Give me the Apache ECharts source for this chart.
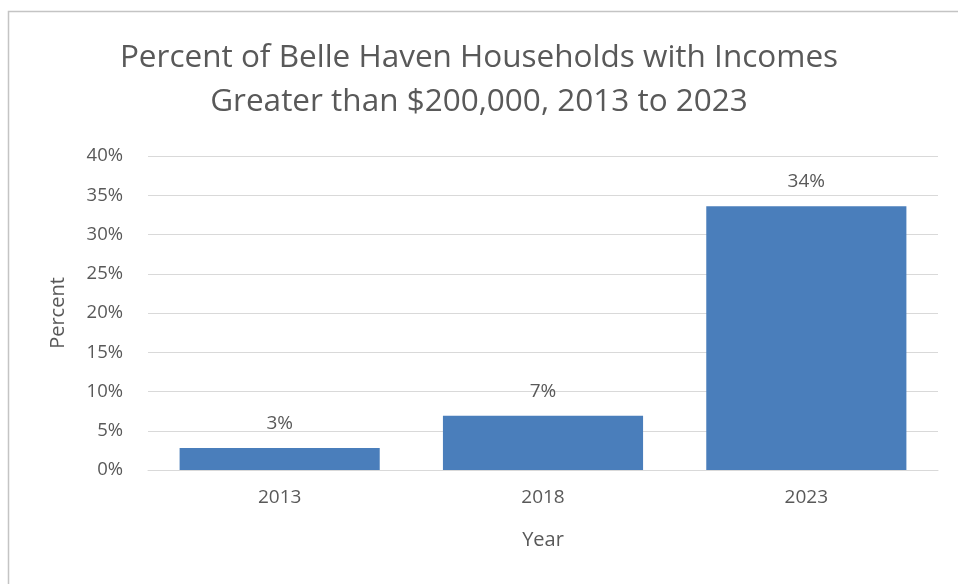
<!DOCTYPE html>
<html>
<head>
<meta charset="utf-8">
<script src="https://cdn.jsdelivr.net/npm/echarts@6/dist/echarts.min.js"></script>
<style>
  html, body { margin: 0; padding: 0; background: #ffffff; }
  #chart { width: 958px; height: 584px; }
</style>
</head>
<body>
<div id="chart"></div>
<script>
// Share of Belle Haven households earning over $200,000
const years = ['2013', '2018', '2023'];
const sharePct = [2.8, 6.9, 33.6];
const yTicks = [0, 5, 10, 15, 20, 25, 30, 35, 40];

const textColor = '#595959';
const fontFamily = '"Open Sans", "Noto Sans", "Liberation Sans", sans-serif';

const chart = echarts.init(document.getElementById('chart'));
chart.setOption({
  backgroundColor: '#ffffff',
  animation: false,
  textStyle: { fontFamily: fontFamily },
  graphic: [{
    type: 'rect',
    shape: { x: 8.5, y: 11.5, width: 980, height: 620 },
    style: { fill: 'none', stroke: '#c4c4c4', lineWidth: 1.5 },
    silent: true
  }],
  title: {
    text: 'Percent of Belle Haven Households with Incomes\nGreater than $200,000, 2013 to 2023',
    left: 'center',
    top: 31,
    textStyle: {
      color: textColor,
      fontSize: 31.5,
      fontWeight: 'normal',
      lineHeight: 44,
      fontFamily: fontFamily
    }
  },
  grid: { left: 148, right: 20, top: 156, bottom: 114 },
  xAxis: {
    type: 'category',
    data: years,
    name: 'Year',
    nameLocation: 'middle',
    nameGap: 60,
    nameTextStyle: { color: textColor, fontSize: 20 },
    axisLine: { lineStyle: { color: '#d9d9d9', width: 1 } },
    axisTick: { show: false },
    axisLabel: { color: textColor, fontSize: 19, margin: 18 }
  },
  yAxis: {
    type: 'value',
    min: yTicks[0],
    max: yTicks[yTicks.length - 1],
    interval: 5,
    name: 'Percent',
    nameLocation: 'middle',
    nameGap: 80,
    nameTextStyle: { color: textColor, fontSize: 20 },
    axisLine: { show: false },
    axisTick: { show: false },
    splitLine: { lineStyle: { color: '#d9d9d9', width: 1 } },
    axisLabel: {
      color: textColor,
      fontSize: 18.5,
      margin: 25,
      formatter: v => v + '%'
    }
  },
  series: [{
    type: 'bar',
    data: sharePct,
    barCategoryGap: '24%',
    itemStyle: { color: '#4a7ebb' },
    label: {
      show: true,
      position: 'top',
      distance: 15,
      color: textColor,
      fontSize: 19,
      formatter: p => Math.round(p.value) + '%'
    }
  }]
});
</script>
</body>
</html>
